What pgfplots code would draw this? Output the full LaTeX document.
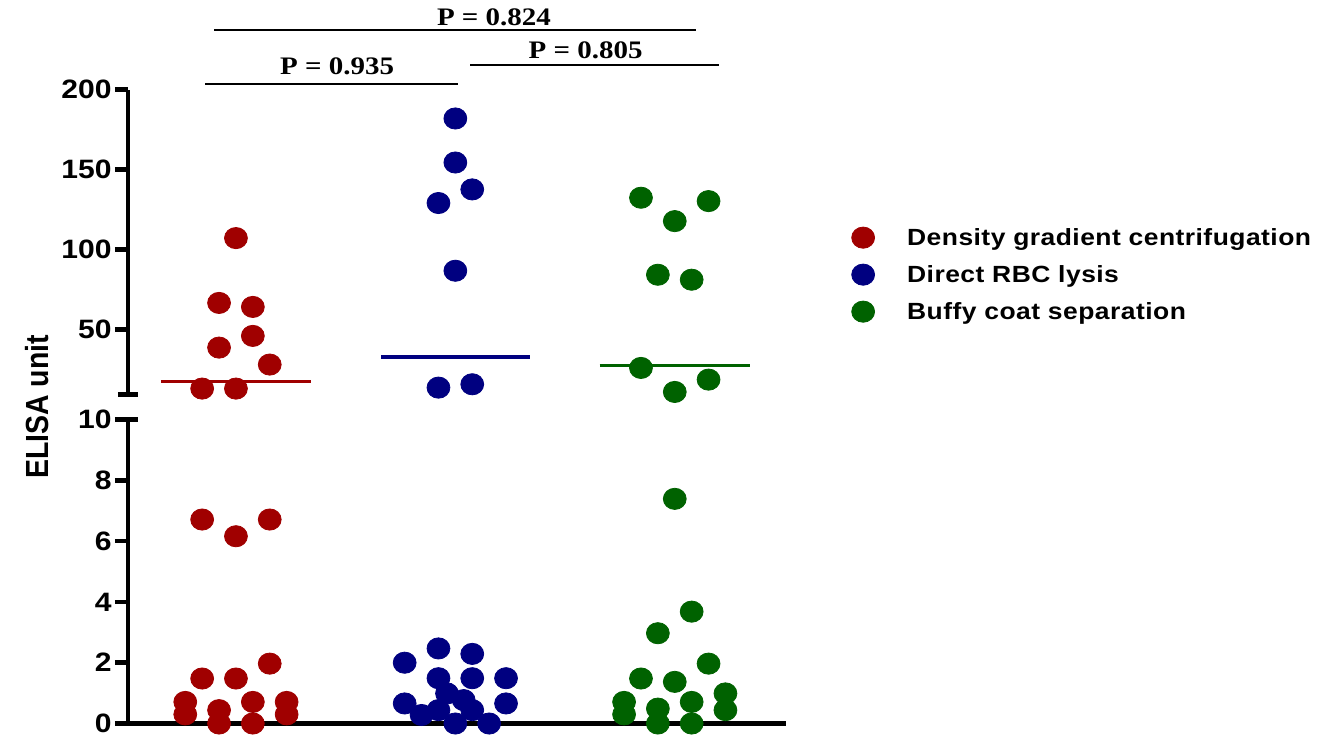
\documentclass[border=0pt]{standalone}
\usepackage{fontspec}
\setmainfont{Liberation Sans}[FakeStretch=1.13]
\newfontfamily\pfont{Liberation Serif}[FakeStretch=1.15]
\newfontfamily\legfont{Liberation Sans}[FakeStretch=1.13,LetterSpace=2]
\newfontfamily\labfont{Liberation Sans}[FakeStretch=0.89]
\usepackage{pgfplots}
\pgfplotsset{compat=1.18}

\definecolor{dgc}{RGB}{160,0,0}
\definecolor{rbc}{RGB}{0,0,128}
\definecolor{bcs}{RGB}{0,98,0}

\pgfplotsset{
  elisa/.style={
    scale only axis, width=329pt, xmin=0.508, xmax=3.507, clip=false,
    xtick=\empty,
    axis line style={line width=2.3pt, -},
    tick style={line width=2.3pt, black},
    major tick length=6.5pt, tick align=outside,
    yticklabel style={font=\bfseries\fontsize{13.3}{14}\selectfont, inner sep=1.5pt},
    /pgf/number format/assume math mode=true,
  },
  dots/.style={color=#1, fill=#1, only marks, mark=*, mark size=5.3pt,
    mark options={draw=none, xscale=1.08}},
  med/.style={color=#1, line width=1.65pt, forget plot},
}

\begin{document}
\begin{tikzpicture}
\path[use as bounding box] (0,0) rectangle (663pt,368pt);

% lower part, 0 to 10
\begin{axis}[elisa, at={(64pt,6.25pt)}, anchor=south west, height=152pt,
  ymin=0, ymax=10, ytick={0,2,4,6,8,10},
  axis x line*=bottom, axis y line*=left,
  extra y ticks={10}, extra y tick labels={},
  extra y tick style={tick align=inside, major tick length=5pt}]
\addplot[dots=dgc] coordinates {
  (0.846,6.71) (1,6.16) (1.154,6.71) (0.846,1.48) (1,1.48) (1.154,1.97)
  (0.769,0.71) (1.077,0.71) (1.231,0.71) (0.769,0.30) (0.923,0.44)
  (1.231,0.30) (0.923,0) (1.077,0)};
\addplot[dots=rbc] coordinates {
  (1.769,2.0) (1.923,2.47) (2.077,2.29) (1.923,1.49) (2.077,1.49)
  (2.231,1.49) (1.962,0.99) (2.038,0.77) (1.769,0.66) (2.231,0.66)
  (1.846,0.28) (1.923,0.44) (2.077,0.44) (2,0) (2.154,0)};
\addplot[dots=bcs] coordinates {
  (3,7.39) (3.077,3.68) (2.923,2.97) (3.154,1.97) (2.846,1.48) (3,1.37)
  (3.231,0.99) (2.769,0.71) (3.077,0.71) (2.769,0.30) (2.923,0.49)
  (3.231,0.44) (2.923,0) (3.077,0)};
\end{axis}

% upper part, 10 to 200
\begin{axis}[elisa, at={(64pt,170.75pt)}, anchor=south west, height=152.5pt,
  ymin=9.5, ymax=200, ytick={50,100,150,200},
  axis x line=none, axis y line*=left,
  extra y ticks={9.5}, extra y tick labels={},
  extra y tick style={tick align=center, major tick length=10pt},
  legend cell align=left,
  legend image code/.code={\path[draw=none,fill=none] (-6pt,-1pt) rectangle (18.5pt,1pt);
    \draw[#1] plot coordinates {(0pt,0pt)};},
  legend style={draw=none, fill=none, at={(1.099,0.570)}, anchor=north west,
    inner sep=0pt, outer sep=0pt, row sep=1.5pt,
    nodes={font=\legfont\bfseries\fontsize{11.7}{13}\selectfont,
      text height=9pt, text depth=1pt, inner sep=3.5pt}}]
\addplot[dots=dgc] coordinates {
  (1,107.2) (0.923,66.7) (1.077,64.2) (1.077,46.1) (0.923,38.8)
  (1.154,28.2) (0.846,13.2) (1,13.2)};
\addlegendentry{Density gradient centrifugation}
\addplot[dots=rbc] coordinates {
  (2,181.9) (2,154.4) (2.077,137.6) (1.923,129.1) (2,86.8)
  (1.923,13.8) (2.077,15.9)};
\addlegendentry{Direct RBC lysis}
\addplot[dots=bcs] coordinates {
  (2.846,132.4) (3.154,130.3) (3,117.8) (2.923,84.3) (3.077,81.2)
  (2.846,26.1) (3.154,18.8) (3,11.1)};
\addlegendentry{Buffy coat separation}
% medians
\addplot[med=dgc] coordinates {(0.658,17.8) (1.342,17.8)};
\addplot[med=rbc] coordinates {(1.662,33.0) (2.338,33.0)};
\addplot[med=bcs] coordinates {(2.658,27.8) (3.342,27.8)};
% p values
\draw[line width=0.7pt] (axis cs:0.900,237.1) -- (axis cs:3.097,237.1);
\draw[line width=0.7pt] (axis cs:0.859,203.5) -- (axis cs:2.012,203.5);
\draw[line width=0.7pt] (axis cs:2.067,215.4) -- (axis cs:3.202,215.4);
\node[anchor=base, font=\pfont\bfseries\fontsize{12.6}{14}\selectfont]
  at (axis cs:2.176,240.0) {P = 0.824};
\node[anchor=base, font=\pfont\bfseries\fontsize{12.6}{14}\selectfont]
  at (axis cs:1.461,209.6) {P = 0.935};
\node[anchor=base, font=\pfont\bfseries\fontsize{12.6}{14}\selectfont]
  at (axis cs:2.594,219.4) {P = 0.805};
\end{axis}

\node[rotate=90, font=\labfont\bfseries\fontsize{16}{18}\selectfont]
  at (18.5pt,164.5pt) {ELISA unit};
\end{tikzpicture}
\end{document}
